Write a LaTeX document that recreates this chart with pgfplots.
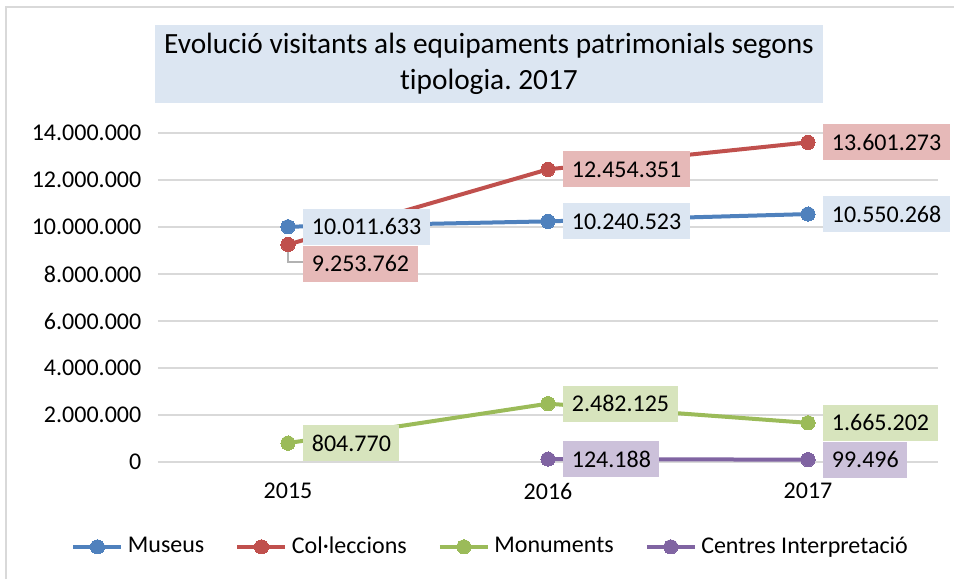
\documentclass[border=0pt]{standalone}
\usepackage{fontspec}
\setmainfont{Carlito}[Ligatures=NoCommon]
\usepackage{pgfplots}
\pgfplotsset{compat=1.18}

\definecolor{cMus}{HTML}{4F81BD}
\definecolor{cCol}{HTML}{C0504D}
\definecolor{cMon}{HTML}{9BBB59}
\definecolor{cCen}{HTML}{8064A2}
\definecolor{lMus}{HTML}{DCE6F2}
\definecolor{lCol}{HTML}{E6B9B8}
\definecolor{lMon}{HTML}{D7E4BD}
\definecolor{lCen}{HTML}{CCC1DA}
\definecolor{gridc}{HTML}{D9D9D9}

\pgfplotsset{
  serie/.style={color=#1, line width=1.8pt, mark=*, mark size=3.2pt,
    mark options={fill=#1, draw=#1, line width=0pt}},
  etiq/.style={draw=none, forget plot, point meta=explicit symbolic,
    nodes near coords,
    nodes near coords style={fill=#1, text=black, anchor=west, xshift=6.75pt,
      inner xsep=3.8pt, inner ysep=0pt, text height=7.3pt, text depth=0pt,
      minimum height=16.2pt, font=\fontsize{10.8}{12}\selectfont}},
}

\begin{document}
\frenchspacing
\begin{tikzpicture}
% marc del grafic
\draw[gridc, line width=0.8pt] (2.7pt,0pt) -- (2.7pt,257.4pt) -- (429.3pt,257.4pt);

\begin{axis}[
    at={(71.1pt,52.65pt)}, anchor=south west,
    scale only axis,
    width=351pt, height=148.05pt,
    xmin=2014.5, xmax=2017.5,
    ymin=0, ymax=14000000,
    xtick={2015,2016,2017},
    xticklabels={2015,2016,2017},
    ytick={0,2000000,4000000,6000000,8000000,10000000,12000000,14000000},
    scaled y ticks=false,
    yticklabel style={/pgf/number format/fixed, /pgf/number format/1000 sep={.}},
    /pgf/number format/assume math mode=true,
    tick label style={font=\fontsize{10.8}{12}\selectfont, text=black},
    major tick length=0pt,
    axis line style={draw=none},
    ymajorgrids, grid style={gridc, line width=0.8pt},
    yticklabel style={xshift=-4pt},
    xticklabel style={yshift=-6pt},
    clip=false,
    legend columns=4,
    legend cell align=left,
    legend style={draw=none, fill=none, at={(0.428,-0.258)}, anchor=center,
      font=\fontsize{10.8}{12}\selectfont,
      /tikz/every even column/.append style={column sep=12pt}},
    legend image code/.code={\draw[mark repeat=2,mark phase=2,#1]
      plot coordinates {(0pt,0pt) (10.8pt,0pt) (21.6pt,0pt)};},
  ]
  \addplot[serie=cMus] coordinates {(2015,10011633) (2016,10240523) (2017,10550268)};
  \addlegendentry{Museus}
  \addplot[gray!60, line width=0.6pt, forget plot] coordinates {(2015,9253762) (2015,8510000) (2015.058,8510000)};
  \addplot[serie=cCol] coordinates {(2015,9253762) (2016,12454351) (2017,13601273)};
  \addlegendentry{Col·leccions}
  \addplot[serie=cMon] coordinates {(2015,804770) (2016,2482125) (2017,1665202)};
  \addlegendentry{Monuments}
  \addplot[serie=cCen] coordinates {(2016,124188) (2017,99496)};
  \addlegendentry{Centres Interpretació}

  % etiquetes de dades
  \addplot[etiq=lMus] coordinates {(2015,10011633) [10.011.633] (2016,10240523) [10.240.523] (2017,10550268) [10.550.268]};
  \addplot[etiq=lCol] coordinates {(2016,12454351) [12.454.351] (2017,13601273) [13.601.273]};
  \addplot[etiq=lCol, nodes near coords style={yshift=-8.55pt}] coordinates {(2015,9253762) [9.253.762]};
  \addplot[etiq=lMon] coordinates {(2015,804770) [804.770] (2016,2482125) [2.482.125] (2017,1665202) [1.665.202]};
  \addplot[etiq=lCen] coordinates {(2016,124188) [124.188] (2017,99496) [99.496]};
\end{axis}

% titol
\node[fill=lMus, minimum width=300.6pt, minimum height=35.1pt, align=center,
  font=\fontsize{13.2}{16}\selectfont, inner sep=0pt]
  at (220.05pt,231.75pt) {Evolució visitants als equipaments patrimonials segons\\tipologia. 2017};

\pgfresetboundingbox
\path[use as bounding box] (0,0) rectangle (429.3pt,260.55pt);
\end{tikzpicture}
\end{document}
